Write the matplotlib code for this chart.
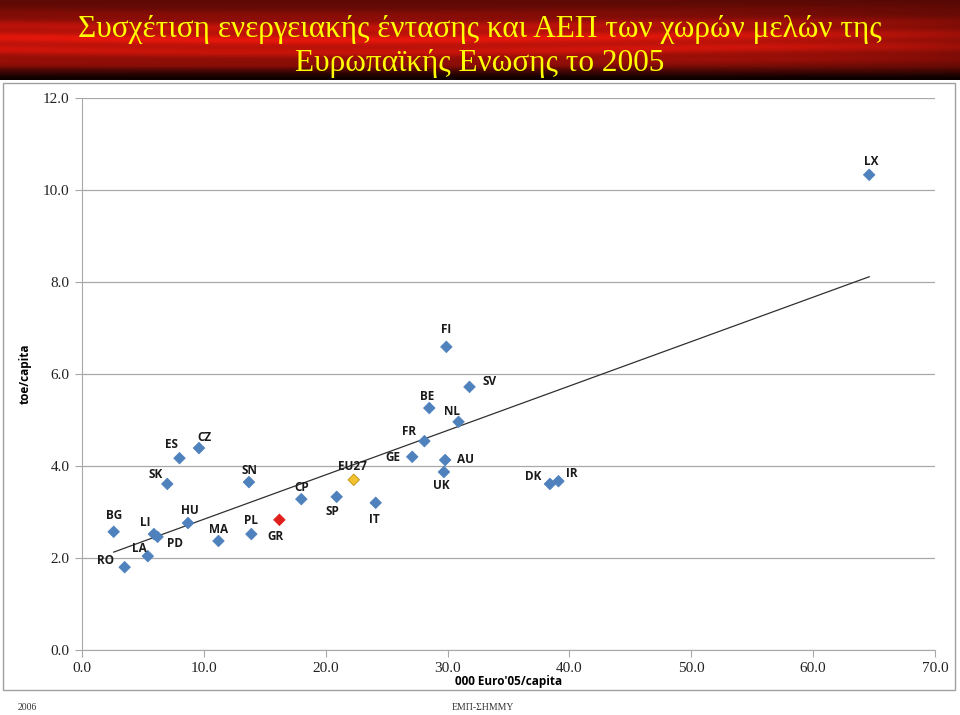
import matplotlib

matplotlib.use("Agg")
import matplotlib.pyplot as plt
import numpy as np
from matplotlib.patches import Rectangle

# GDP (000 Euro'05 / capita) vs energy intensity (toe / capita), EU 2005
countries = ["LX", "FI", "SV", "BE", "NL", "FR", "GE", "AU", "UK", "DK", "IR",
             "EU27", "SP", "IT", "CP", "GR", "PL", "SN", "MA", "HU", "CZ", "ES",
             "SK", "LI", "PD", "LA", "BG", "RO"]
gdp = [64.6, 29.9, 31.8, 28.5, 30.9, 28.1, 27.1, 29.8, 29.7, 38.4, 39.1,
       22.3, 20.9, 24.1, 18.0, 16.2, 13.9, 13.7, 11.2, 8.7, 9.6, 8.0,
       7.0, 5.9, 6.2, 5.4, 2.6, 3.5]
toe = [10.33, 6.59, 5.72, 5.26, 4.96, 4.54, 4.20, 4.13, 3.87, 3.61, 3.67,
       3.70, 3.33, 3.20, 3.28, 2.83, 2.52, 3.65, 2.37, 2.76, 4.39, 4.17,
       3.61, 2.52, 2.46, 2.04, 2.57, 1.80]

x_ticks = [0, 10, 20, 30, 40, 50, 60, 70]
y_ticks = [0, 2, 4, 6, 8, 10, 12]

# label offsets (pixels, +x right, +y down) relative to the marker
label_off = {
    "LX": (2, -13), "FI": (0, -17), "SV": (20, -5), "BE": (-2, -12),
    "NL": (-7, -10), "FR": (-15, -10), "GE": (-19, 1), "AU": (20, -1),
    "UK": (-3, 14), "DK": (-17, -7), "IR": (13, -8), "EU27": (-1, -13),
    "SP": (-4, 15), "IT": (-1, 17), "CP": (0, -12), "GR": (-4, 17),
    "PL": (0, -14), "SN": (0, -12), "MA": (0, -11), "HU": (2, -13),
    "CZ": (5, -11), "ES": (-8, -14), "SK": (-12, -9), "LI": (-9, -12),
    "PD": (17, 7), "LA": (-8, -8), "BG": (0, -16), "RO": (-19, -7),
}
special = {"GR": "#E0201C", "EU27": "#F2C12E"}

fig = plt.figure(figsize=(9.6, 7.15), dpi=100)

# header band: dark maroon top, bright streaky red middle, black bottom
bg = fig.add_axes([0, 1 - 80 / 715, 1, 80 / 715])
yy, xx = np.mgrid[0:1:80j, 0:1:480j]   # yy = 0 at bottom
vert = np.exp(-((yy - 0.5) / 0.32) ** 2)
streak = 0.88 + 0.12 * np.sin(yy * 38 + 1.5 * np.sin(xx * 5))
horiz = 1.0 - 0.45 * np.clip((xx - 0.6) / 0.4, 0, 1) ** 2
red = np.clip(0.32 + 0.58 * vert * streak * horiz, 0, 1)
red = red * np.clip(yy * 6, 0.15, 1)          # fade to black at the bottom
img = np.dstack([red, red * 0.10, red * 0.05])
bg.imshow(img, aspect="auto", extent=[0, 1, 0, 1], origin="lower")
bg.axis("off")
fig.text(0.5, 1 - 30 / 715, "Συσχέτιση ενεργειακής έντασης και ΑΕΠ των χωρών μελών της",
         ha="center", va="center", color="#FFFF00", fontsize=22.5,
         family="Liberation Serif")
fig.text(0.5, 1 - 64 / 715, "Ευρωπαϊκής Ενωσης το 2005",
         ha="center", va="center", color="#FFFF00", fontsize=22.5,
         family="Liberation Serif")

# chart frame
fig.patches.append(Rectangle((3 / 960, 1 - 690 / 715), 952 / 960, 607 / 715,
                             transform=fig.transFigure, fill=False,
                             ec="#A0A0A0", lw=1))

ax = fig.add_axes([82 / 960, 1 - 650 / 715, 853 / 960, 552 / 715])
colors = [special.get(c, "#4F81BD") for c in countries]
edges = ["#C09010" if c == "EU27" else col for c, col in zip(countries, colors)]
ax.scatter(gdp, toe, marker="D", s=34, c=colors, edgecolors=edges,
           linewidths=0.6, zorder=3)

k, b = np.polyfit(gdp, toe, 1)
xs = np.array([min(gdp), max(gdp)])
ax.plot(xs, k * xs + b, color="#303030", lw=0.9, zorder=2)

for name, x, y in zip(countries, gdp, toe):
    dx, dy = label_off[name]
    ax.annotate(name, (x, y), xytext=(dx * 0.72, -dy * 0.72),
                textcoords="offset points", ha="center", va="center",
                fontsize=8.5, fontweight="bold", family="Open Sans",
                color="#1a1a1a")

ax.set_xlim(0, 70)
ax.set_ylim(0, 12)
ax.set_xticks(x_ticks)
ax.set_yticks(y_ticks)
ax.set_xticklabels([f"{v:.1f}" for v in x_ticks], family="Liberation Serif", fontsize=11)
ax.set_yticklabels([f"{v:.1f}" for v in y_ticks], family="Liberation Serif", fontsize=11)
ax.grid(axis="y", color="#A8A8A8", lw=0.9)
ax.set_axisbelow(True)
for s in ("top", "right"):
    ax.spines[s].set_visible(False)
for s in ("left", "bottom"):
    ax.spines[s].set_color("#A8A8A8")
ax.tick_params(axis="both", color="#A8A8A8", labelcolor="#222222", length=5, pad=4)
ax.set_xlabel("000 Euro'05/capita", fontsize=8.5, fontweight="bold",
              family="Open Sans", labelpad=0)
ax.set_ylabel("toe/capita", fontsize=8.5, fontweight="bold",
              family="Open Sans", labelpad=8)

fig.text(18 / 960, 1 - 708 / 715, "2006", ha="left", va="center",
         fontsize=7, family="Liberation Serif", color="#333333")
fig.text(483 / 960, 1 - 708 / 715, "ΕΜΠ-ΣΗΜΜΥ", ha="center", va="center",
         fontsize=7, family="Liberation Serif", color="#333333")

fig.savefig("out.png", dpi=100)
